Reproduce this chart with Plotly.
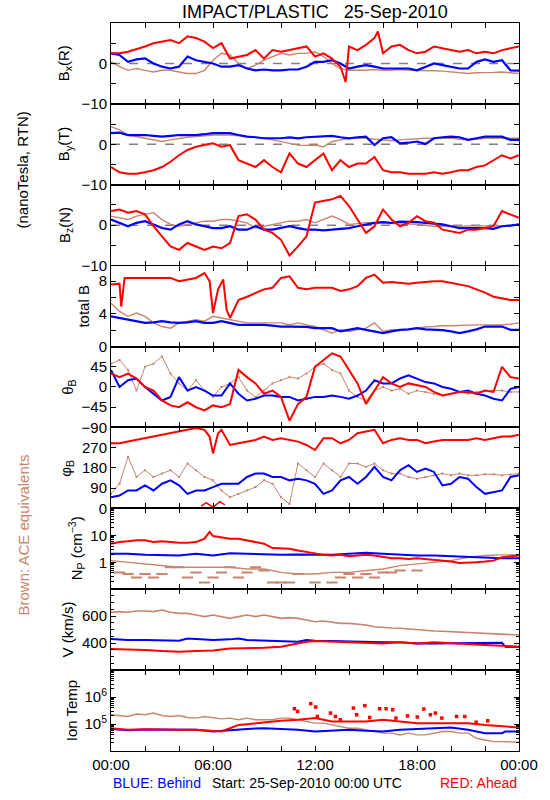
import plotly.graph_objects as go
from plotly.subplots import make_subplots

# ---------------- time grids (hours after 25-Sep-2010 00:00 UTC) ----------------
H2 = [0, 0.5, 1, 1.5, 2, 2.5, 3, 3.5, 4, 4.5, 5, 5.5, 6, 6.5, 7, 7.5, 8, 8.5, 9, 9.5,
      10, 10.5, 11, 11.5, 12, 12.5, 13, 13.5, 14, 14.5, 15, 15.5, 16, 16.5, 17, 17.5,
      18, 18.5, 19, 19.5, 20, 20.5, 21, 21.5, 22, 22.5, 23, 23.5, 24]
H1 = [0, 1, 2, 3, 4, 5, 6, 7, 8, 9, 10, 11, 12, 13, 14, 15, 16, 17, 18, 19, 20, 21, 22, 23, 24]

X_TICKS = [0, 6, 12, 18, 24]
X_LABELS = ["00:00", "06:00", "12:00", "18:00", "00:00"]

# ---------------- Bx (R) ----------------
bx_red_t = [0, 0.5, 1, 1.5, 2, 2.5, 3, 3.5, 4, 4.5, 5, 5.5, 6, 6.5, 7, 7.5, 8, 8.5, 9, 9.5,
            10, 10.5, 11, 11.5, 12, 12.5, 13, 13.5, 13.8, 14, 14.5, 15, 15.5, 15.7, 16, 16.5,
            17, 17.5, 18, 18.5, 19, 19.5, 20, 20.5, 21, 21.5, 22, 22.5, 23, 23.5, 24]
bx_red = [2.5, 2.5, 2.9, 3.5, 4.2, 5.0, 5.4, 5.8, 5.0, 6.7, 6.3, 5.4, 3.8, 5.0, 1.2, 1.7, 2.1, 3.3, 1.2, 3.3,
          2.9, 3.3, 3.8, 4.2, 1.7, 2.5, 1.2, -0.8, -4.6, 4.2, 3.3, 4.6, 6.3, 7.9, 2.5, 4.2,
          4.6, 3.3, 2.5, 2.9, 4.2, 3.8, 3.3, 2.9, 3.3, 2.5, 2.9, 2.5, 3.3, 3.8, 4.2]
bx_blue = [2.5, 2.1, 0.4, 1.0, 1.25, 0, -0.8, -1.25, -0.8, 1.7, 0.8, 0.4, 0, -0.8, -0.8, -0.4, -1.25, -1.7, -1.5, -1.7,
           -1.7, -1.5, -1.5, -0.8, 0.4, 0.4, 0.8, 0, -1.25, -0.8, -0.4, -0.8, -1.25, -1.25, -1.25, -1.25,
           -1.7, -0.8, 0, -0.4, -0.8, -1.25, -1.25, 0.4, 1.0, 0.4, 0.8, -1.7, -1.8]
bx_brown = [0.4, -0.8, -1.7, -1.25, -1.7, -2.1, -1.7, -1.7, -2.1, -2.5, -2.5, -1.7, 0.8, 2.5, 2.1, 0, -1.25, -0.4, 0.8, 1.7,
            2.5, 2.1, 2.5, 2.5, 2.9, 1.7, 0, -1.25, -1.7, -1.7, -1.7, -1.5, -1.7, -1.7, -1.5, -1.7,
            -1.7, -1.7, -1.8, -1.9, -2.1, -2.3, -2.5, -2.3, -2.3, -2.2, -2.1, -2.3, -2.5]

# ---------------- By (T) ----------------
by_red = [-5.6, -6.9, -7.25, -7.25, -6.9, -6.4, -5.6, -4.3, -2.7, -1.4, -0.6, -0.2, 0.25, -0.6, -0.2, -3.9, -4.75, -5.6, -3.9, -5.6,
          -6.9, -2.25, -4.75, -5.6, -3.9, -2.25, -6.4, -3.9, -5.6, -4.75, -4.75, -3.1, -6.4, -6.9, -6.9, -7.25,
          -7.25, -7.25, -6.9, -7.25, -6.9, -6.4, -6.4, -5.6, -5.2, -3.9, -2.7, -3.5, -2.7]
by_blue = [2.75, 2.9, 2.3, 2.3, 2.3, 2.1, 1.9, 2.1, 2.3, 2.3, 2.3, 2.5, 2.75, 2.75, 2.75, 2.3, 1.9, 1.75, 1.5, 1.5,
           1.5, 1.7, 1.5, 1.75, 1.9, 2.1, 2.1, 1.75, 1.5, 1.75, 1.9, -0.2, 1.5, 1.75, 0.25, 0.4,
           0.7, 0.1, 1.5, 1.75, 1.9, 1.75, 1.1, 1.5, 1.9, 1.9, 1.9, 1.1, 1.1]
by_brown = [4.4, 3.6, 2.3, 1.9, 1.5, 1.1, 0.7, 1.1, 1.5, 1.75, 1.9, 2.1, 2.3, 2.3, 2.3, 2.1, 1.9, 1.75, 1.5, 1.1,
            0.7, 0.25, -0.2, -0.25, -0.2, -0.6, 0.7, 1.1, 1.5, 1.5, 1.5, 1.25, 1.1, 0.9, 1.1, 1.25,
            1.5, 1.5, 1.5, 1.5, 1.5, 1.25, 1.1, 1.25, 1.5, 1.5, 1.5, 1.5, 1.5]

# ---------------- Bz (N) ----------------
bz_red = [3.5, 3.9, 3.1, 3.5, 2.7, -0.25, -2.75, -5.25, -6.1, -4.4, -5.25, -6.1, -5.25, -5.7, -4.4, 2.25, 2.7, 1.4, -1.1, -1.9,
          -3.6, -7.5, -5.25, -2.75, 5.6, 6.0, 6.4, 7.25, 4.75, 1.4, -1.9, -0.25, 3.9, 1.4, -0.25, 0.6,
          2.25, 1.0, 0.6, -1.1, -1.5, -1.9, -1.1, -1.1, -0.7, -0.25, 3.5, 2.7, 1.8]
bz_blue = [1.4, 0.6, -0.25, 0.6, 1.0, 0.2, -0.7, -1.1, 0.2, 1.0, 0.2, -0.25, -0.7, -0.7, -0.25, -1.1, -1.1, -0.25, -1.1, -1.1,
           -0.7, -0.25, -0.7, -1.1, -1.1, -1.25, -1.1, -0.9, -0.7, -0.25, 0.2, 0.6, 0.75, 0.6, 0.9, 0.9,
           0.75, 0.6, 0.4, 0.2, -0.25, -0.7, -0.7, -0.7, -0.7, -0.9, -0.25, -0.1, 0.2]
bz_brown = [2.25, 1.8, 1.4, 2.25, 2.7, 3.1, 1.4, 0.2, -0.25, 0.2, 0.6, 1.0, 1.0, 1.4, 1.4, 1.0, 0.6, -0.7, -0.25, 0.2,
            0.6, 1.0, 1.0, 1.4, 0.6, 1.4, 2.25, 1.4, 0.2, 0.4, 0.6, 0.6, 0.6, 0.4, 0.4, 0.3,
            0.2, -0.1, -0.25, -0.25, -0.25, -0.25, -0.25, -0.25, -0.25, -0.25, -0.25, -0.1, 0.2]

# ---------------- total B ----------------
bt_red_t = [0, 0.5, 0.6, 0.8, 1, 1.5, 2, 2.5, 3, 3.5, 4, 4.5, 5, 5.5, 5.8, 6, 6.3, 6.6, 6.8, 7,
            7.5, 8, 8.5, 9, 9.5, 10, 10.5, 11, 11.5, 12, 12.5, 13, 13.5, 14, 14.5, 15, 15.5, 16,
            16.5, 17, 17.5, 18, 18.5, 19, 19.5, 20, 20.5, 21, 21.5, 22, 22.5, 23, 23.5, 24]
bt_red = [7.6, 7.7, 4.9, 8.4, 8.4, 8.4, 8.4, 8.4, 8.4, 8.4, 8.0, 8.2, 8.4, 9.0, 8.0, 4.1, 7.0, 8.2, 4.5, 3.5,
          5.7, 6.1, 6.6, 7.0, 7.2, 8.4, 8.6, 7.2, 7.0, 7.2, 7.2, 7.2, 6.8, 7.0, 7.4, 8.4, 8.8, 7.8,
          7.9, 7.8, 7.7, 7.8, 7.9, 8.0, 8.0, 7.8, 7.6, 7.4, 7.0, 6.6, 6.1, 5.9, 5.7, 5.7]
bt_blue = [3.7, 3.5, 3.3, 3.1, 2.9, 2.95, 3.1, 2.95, 2.9, 2.95, 3.1, 2.9, 2.9, 3.1, 2.9, 2.65, 2.65, 2.65, 2.65, 2.55,
           2.45, 2.45, 2.45, 2.4, 2.25, 2.25, 2.25, 1.85, 2.05, 2.25, 2.05, 1.85, 1.65, 1.85, 2.05, 2.1,
           2.25, 2.1, 2.05, 2.0, 1.85, 1.65, 1.85, 2.1, 2.45, 2.45, 2.45, 2.05, 2.05]
bt_brown = [5.3, 4.3, 3.7, 4.1, 3.7, 2.9, 2.45, 2.25, 2.9, 3.1, 3.3, 3.1, 3.7, 3.5, 3.3, 3.1, 2.9, 2.9, 2.9, 2.9,
            2.9, 2.65, 2.9, 2.65, 2.45, 2.05, 1.65, 2.05, 1.85, 2.05, 2.25, 2.9, 1.85, 2.05, 2.05, 2.1,
            2.25, 2.4, 2.45, 2.55, 2.55, 2.6, 2.65, 2.65, 2.65, 2.65, 2.65, 2.75, 2.9]

# ---------------- theta_B ----------------
th_red = [30, 22, 30, 19, 0, -8, -30, -41, -45, -34, -45, -52, -41, -45, -38, 38, 22, 8, -15, -8,
          -22, -75, -38, -22, 45, 60, 75, 68, 38, 8, -38, -8, 22, 8, 0, 8,
          4, 0, -11, -19, -15, -11, -11, -15, -8, -11, 45, 22, 19]
th_blue = [38, 0, 15, 19, 0, -15, -30, -22, 22, -8, 0, -8, -19, -19, 8, -15, -30, -26, -19, -19,
           -22, -22, -30, -26, -22, -22, -19, -22, -26, -19, -8, 15, 8, 8, 19, 26,
           19, 11, 8, 0, -4, -11, -8, -15, -19, -26, -30, -4, 0]
th_brown = [52, 60, 38, -8, 45, 52, 68, 30, 8, -8, 15, -8, -22, 0, 8, 22, -8, -22, -8, 8,
            15, 22, 19, 30, 45, 52, 38, 30, -8, -22, -30, -8, 0, -8, -4, -15,
            -8, -11, -15, -19, -15, -11, -15, -11, -8, -8, -8, -11, -11]

# ---------------- phi_B ----------------
ph_red_t = [0, 0.5, 1, 1.5, 2, 2.5, 3, 3.5, 4, 4.5, 5, 5.5, 5.8, 6, 6.3, 6.5, 7, 7.5, 8, 8.5,
            9, 9.5, 10, 10.5, 11, 11.5, 12, 12.5, 13, 13.5, 14, 14.5, 15, 15.5, 16, 16.5, 17,
            17.5, 18, 18.5, 19, 19.5, 20, 20.5, 21, 21.5, 22, 22.5, 23, 23.5, 24]
ph_red = [289.5, 289.5, 297, 304.5, 312, 319.5, 327, 334.5, 342, 349.5, 357, 349.5, 319.5, 244.5, 334.5, 349.5,
          282, 289.5, 297, 304.5, 319.5, 304.5, 312, 304.5, 297, 282, 259.5, 312, 312, 289.5, 304.5, 334.5,
          342, 349.5, 289.5, 304.5, 312, 304.5, 304.5, 289.5, 297, 304.5, 304.5, 304.5, 304.5, 312, 304.5,
          312, 319.5, 319.5, 327]
ph_red_wrap_t = [5.3, 5.6, 6.0, 6.4, 6.7]
ph_red_wrap = [10, 25, 5, 30, 15]
ph_blue = [49.5, 57, 79.5, 79.5, 102, 79.5, 109.5, 124.5, 102, 64.5, 79.5, 79.5, 94.5, 109.5, 109.5, 109.5,
           139.5, 154.5, 154.5, 139.5, 139.5, 124.5, 132, 124.5, 109.5, 64.5, 79.5, 124.5, 139.5, 109.5,
           139.5, 184.5, 139.5, 124.5, 169.5, 192, 162, 177, 162, 102, 109.5, 139.5, 132, 94.5, 64.5,
           72, 79.5, 139.5, 147]
ph_brown = [64.5, 109.5, 229.5, 139.5, 169.5, 139.5, 154.5, 169.5, 139.5, 199.5, 169.5, 139.5, 124.5, 79.5,
            49.5, 64.5, 79.5, 94.5, 124.5, 109.5, 49.5, 19.5, 199.5, 169.5, 139.5, 199.5, 169.5, 139.5,
            199.5, 199.5, 184.5, 199.5, 169.5, 154.5, 154.5, 139.5, 132, 139.5, 147, 154.5, 147, 154.5,
            147, 147, 151.5, 151.5, 147, 150, 154.5]

# ---------------- proton density N_P ----------------
np_red_t = [0, 0.5, 1, 1.5, 2, 2.5, 3, 3.5, 4, 4.5, 5, 5.5, 5.8, 6, 6.5, 7, 7.5, 8, 8.5, 9,
            9.5, 10, 10.5, 11, 11.5, 12, 12.5, 13, 13.5, 14, 14.5, 15, 15.5, 16, 16.5, 17, 17.5,
            18, 18.5, 19, 19.5, 20, 20.5, 21, 21.5, 22, 22.5, 23, 23.5, 24]
np_red = [4.87, 5.6, 5.96, 6.5, 6.5, 5.6, 5.96, 5.6, 5.3, 5.3, 5.6, 7.5, 13.3, 9.4, 8.2, 7.5, 7.5, 6.5, 5.96, 4.87,
          3.35, 3.16, 3.16, 2.74, 2.37, 2.05, 1.88, 1.78, 1.88, 1.68, 1.78, 1.88, 1.78, 1.54, 1.41, 1.41, 1.33,
          1.41, 1.33, 1.26, 1.15, 1.06, 0.94, 0.94, 1.0, 1.06, 1.15, 1.54, 1.68, 1.78]
np_blue = [2.05, 2.05, 1.88, 1.88, 1.78, 2.05, 1.78, 2.17, 2.05, 1.88, 1.88, 1.94, 1.88, 1.88, 2.05, 2.24,
           2.05, 1.88, 1.78, 1.78, 1.68, 1.54, 1.41, 1.41, 1.41]
np_brown = [1.15, 1.0, 0.87, 0.75, 0.65, 0.65, 0.65, 0.65, 0.56, 0.56, 0.42, 0.365, 0.365, 0.42, 0.42, 0.49,
            0.56, 0.75, 0.87, 1.0, 1.15, 1.54, 1.78, 1.88, 1.88]
np_brown_low_t = [0.5, 1, 1.5, 2, 2.5, 3, 3.5, 4, 4.5, 5, 5.5, 6, 6.5, 7, 7.5, 8, 8.5, 9, 9.5, 10, 10.5,
                  11, 12, 13, 13.5, 14, 14.5, 15, 15.5, 16, 16.5, 17, 18]
np_brown_low = [0.42, 0.365, 0.274, 0.365, 0.274, 0.365, 0.65, 0.65, 0.274, 0.42, 0.178, 0.274, 0.42, 0.65,
                0.274, 0.42, 0.65, 0.49, 0.178, 0.178, 0.178, 0.365, 0.178, 0.178, 0.274, 0.365, 0.274,
                0.365, 0.274, 0.42, 0.42, 0.49, 0.49]

# ---------------- bulk speed V ----------------
v_red_t = [0, 1, 2, 3, 4, 5, 6, 7, 8, 9, 10, 11, 11.5, 12, 13, 14, 15, 16, 17, 18, 19, 20, 21, 22, 23, 24]
v_red = [356, 354, 349, 341, 336, 341, 346, 361, 361, 366, 373, 398, 411, 416, 411, 406, 398, 398, 406,
         398, 406, 398, 391, 386, 381, 373]
v_blue_t = [0, 1, 2, 3, 4, 4.5, 5, 6, 7, 7.5, 8, 9, 10, 11, 11.5, 12, 13, 14, 15, 16, 17, 18, 19, 20,
            21, 22, 23, 23.2, 24]
v_blue = [430, 423, 423, 423, 418, 435, 430, 423, 428, 435, 423, 418, 411, 411, 423, 418, 416, 411, 406,
          406, 406, 398, 398, 398, 398, 398, 403, 373, 371]
v_brown = [629, 634, 629, 639, 639, 634, 646, 629, 621, 621, 609, 597, 609, 597, 584, 597, 609, 597, 609, 597,
           584, 589, 584, 572, 559, 564, 554, 547, 547, 540, 535, 522, 515, 512, 510, 505, 497, 495,
           490, 488, 485, 483, 480, 478, 473, 470, 465, 463, 460]

# ---------------- ion temperature ----------------
t_red_t = [0, 1, 2, 3, 4, 5, 6, 6.5, 7, 7.5, 8, 8.5, 9, 9.5, 10, 11, 12, 13, 14, 15, 16, 17, 18, 19,
           20, 21, 22, 23, 24]
t_red = [7.0e4, 6.1e4, 6.4e4, 6.1e4, 6.1e4, 6.1e4, 5.6e4, 5.3e4, 7.0e4, 9.3e4, 9.9e4, 1.08e5, 1.17e5,
         1.24e5, 1.32e5, 1.44e5, 1.66e5, 1.24e5, 1.24e5, 1.24e5, 1.44e5, 1.24e5, 1.08e5, 1.08e5, 1.08e5,
         1.08e5, 9.3e4, 8.1e4, 7.4e4]
t_red_pts_t = [10.79, 10.98, 11.75, 12.04, 12.14, 12.91, 13.2, 13.49, 14.26, 14.93, 14.45, 15.22, 15.8,
               16.18, 16.57, 16.76, 17.44, 18.02, 18.4, 18.79, 19.08, 19.46, 20.33, 20.81, 21.48, 22.16]
t_red_pts = [3.7e5, 2.94e5, 5.7e5, 4.27e5, 1.91e5, 2.55e5, 1.91e5, 1.44e5, 3.9e5, 4.8e5, 2.21e5, 1.75e5,
             3.7e5, 3.7e5, 3.4e5, 1.66e5, 2.0e5, 1.82e5, 3.6e5, 2.21e5, 2.55e5, 1.66e5, 1.91e5, 1.91e5,
             1.17e5, 1.32e5]
t_blue_t = [0, 1, 2, 3, 4, 5, 6, 7, 8, 9, 10, 11, 12, 13, 14, 15, 16, 17, 18, 19, 20, 21, 22, 23, 23.2, 24]
t_blue = [6.6e4, 5.9e4, 6.25e4, 6.25e4, 6.4e4, 6.1e4, 5.3e4, 6.1e4, 6.6e4, 7.0e4, 6.6e4, 6.1e4, 5.3e4,
          5.6e4, 6.1e4, 5.6e4, 5.3e4, 6.1e4, 6.6e4, 7.0e4, 7.4e4, 6.1e4, 4.6e4, 4.6e4, 5.3e4, 5.3e4]
t_brown = [2.21e5, 2.08e5, 1.91e5, 2.34e5, 2.21e5, 2.55e5, 2.08e5, 1.91e5, 2.08e5, 1.75e5, 1.66e5, 1.91e5,
           1.75e5, 1.56e5, 1.66e5, 1.44e5, 1.66e5, 1.44e5, 1.44e5, 1.44e5, 1.66e5, 1.66e5, 1.44e5, 1.24e5,
           1.08e5, 1.08e5, 9.3e4, 8.1e4, 7.0e4, 7.0e4, 6.1e4, 5.3e4, 4.6e4, 4.6e4, 3.95e4, 4.6e4, 3.95e4,
           3.95e4, 4.6e4, 5.3e4, 5.3e4, 4.6e4, 4.6e4, 2.97e4, 2.57e4, 2.22e4, 2.22e4, 2.22e4, 2.1e4]

# ---------------- styling ----------------
RED = "#FF0000"
BLUE = "#0000FF"
BROWN = "#C8846C"
FONT = "Liberation Sans, Arial, sans-serif"
MINUS = "\u2212"

fig = make_subplots(rows=9, cols=1, shared_xaxes=True, vertical_spacing=0)


def add(row, x, y, color, width=2.0, mode="lines", size=3, symbol="square"):
    fig.add_trace(go.Scatter(x=x, y=y, mode=mode,
                             line=dict(color=color, width=width),
                             marker=dict(color=color, size=size, symbol=symbol,
                                         line=dict(width=2 if symbol == "line-ew" else 0, color=color)),
                             showlegend=False, hoverinfo="skip"), row=row, col=1)


# row 1: Bx
add(1, H2, bx_brown, BROWN, 1.4)
add(1, H2, bx_blue, BLUE, 2.2)
add(1, bx_red_t, bx_red, RED, 2.0)
# row 2: By
add(2, H2, by_brown, BROWN, 1.4)
add(2, H2, by_blue, BLUE, 2.2)
add(2, H2, by_red, RED, 2.0)
# row 3: Bz
add(3, H2, bz_brown, BROWN, 1.4)
add(3, H2, bz_blue, BLUE, 2.2)
add(3, H2, bz_red, RED, 2.0)
# row 4: total B
add(4, H2, bt_brown, BROWN, 1.4)
add(4, H2, bt_blue, BLUE, 2.2)
add(4, bt_red_t, bt_red, RED, 2.0)
# row 5: theta
add(5, H2, th_brown, BROWN, 1.0, mode="lines+markers", size=2)
add(5, H2, th_blue, BLUE, 2.0)
add(5, H2, th_red, RED, 2.0)
# row 6: phi
add(6, H2, ph_brown, BROWN, 1.0, mode="lines+markers", size=2)
add(6, H2, ph_blue, BLUE, 2.0)
add(6, ph_red_t, ph_red, RED, 2.0)
add(6, ph_red_wrap_t, ph_red_wrap, RED, 1.5)
# row 7: Np
add(7, H1, np_brown, BROWN, 1.4)
add(7, np_brown_low_t, np_brown_low, BROWN, 1, mode="markers", size=8, symbol="line-ew")
add(7, H1, np_blue, BLUE, 2.0)
add(7, np_red_t, np_red, RED, 2.0)
# row 8: V
add(8, H2, v_brown, BROWN, 1.6)
add(8, v_blue_t, v_blue, BLUE, 2.0)
add(8, v_red_t, v_red, RED, 2.0)
# row 9: Ion Temp
add(9, H2, t_brown, BROWN, 1.4)
add(9, t_blue_t, t_blue, BLUE, 2.0)
add(9, t_red_t, t_red, RED, 2.0)
add(9, t_red_pts_t, t_red_pts, RED, 1, mode="markers", size=3.5)

axis_common = dict(showline=True, linecolor="black", linewidth=1, mirror="allticks",
                   ticks="inside", ticklen=5, tickwidth=1, tickcolor="black",
                   showgrid=False, zeroline=False, tickfont=dict(family=FONT, size=15, color="black"))


def minor(vals, length=5):
    return dict(tickmode="array", tickvals=vals, ticks="inside", ticklen=length, tickcolor="black",
                tickwidth=1, showgrid=False)


for r in range(1, 10):
    fig.update_xaxes(range=[0, 24], tickmode="array", tickvals=X_TICKS, ticktext=X_LABELS,
                     showticklabels=(r == 9), minor=minor([2, 4, 8, 10, 14, 16, 20, 22]),
                     **axis_common, row=r, col=1)

for r in (1, 2, 3):
    fig.update_yaxes(range=[-10, 10], tickmode="array", tickvals=[-10, 0],
                     ticktext=[MINUS + "10", "0"], minor=minor([-5, 5]), **axis_common, row=r, col=1)
fig.update_yaxes(range=[0, 9.9], tickmode="array", tickvals=[0, 4, 8],
                 ticktext=["0", "4", "8"], minor=minor([2, 6]), **axis_common, row=4, col=1)
fig.update_yaxes(range=[-90, 90], tickmode="array", tickvals=[-90, -45, 0, 45],
                 ticktext=[MINUS + "90", MINUS + "45", "0", "45"], **axis_common, row=5, col=1)
fig.update_yaxes(range=[0, 360], tickmode="array", tickvals=[0, 90, 180, 270],
                 ticktext=["0", "90", "180", "270"], **axis_common, row=6, col=1)
np_minor = [0.2, 0.3, 0.4, 0.5, 0.6, 0.7, 0.8, 0.9, 2, 3, 4, 5, 6, 7, 8, 9, 20, 30, 40, 50, 60, 70, 80, 90]
fig.update_yaxes(type="log", range=[-1, 2], tickmode="array", tickvals=[1, 10],
                 ticktext=["1", "10"], minor=minor(np_minor, 3), **axis_common, row=7, col=1)
v_minor = [250, 300, 350, 450, 500, 550, 650, 700, 750]
fig.update_yaxes(range=[200, 800], tickmode="array", tickvals=[400, 600],
                 ticktext=["400", "600"], minor=minor(v_minor, 3), **axis_common, row=8, col=1)
t_minor = [2e4, 3e4, 4e4, 5e4, 6e4, 7e4, 8e4, 9e4, 2e5, 3e5, 4e5, 5e5, 6e5, 7e5, 8e5, 9e5,
           2e6, 3e6, 4e6, 5e6, 6e6, 7e6, 8e6, 9e6]
fig.update_yaxes(type="log", range=[4, 7], tickmode="array", tickvals=[1e5, 1e6],
                 ticktext=["10<sup>5</sup>", "10<sup>6</sup>"], minor=minor(t_minor, 3),
                 **axis_common, row=9, col=1)

# dashed zero lines for the field components
for r in (1, 2, 3):
    yref = "y" if r == 1 else f"y{r}"
    xref = "x" if r == 1 else f"x{r}"
    fig.add_shape(type="line", xref=xref, yref=yref, x0=0, x1=24, y0=0, y1=0,
                  line=dict(color="#808080", width=1.5, dash="dash"), layer="below")

# ---------------- text ----------------
L, W = 111, 415
TOP, H = 23, 728


def px_x(p):
    return (p - L) / W


def px_y(p):
    return 1 - (p - TOP) / H


y_titles = [
    ("B<sub>x</sub>(R)", 64), ("B<sub>y</sub>(T)", 64), ("B<sub>z</sub>(N)", 64),
    ("total B", 83), ("\u03b8<sub>B</sub>", 67), ("\u03c6<sub>B</sub>", 66),
    ("N<sub>P</sub> (cm<sup>" + MINUS + "3</sup>)", 76), ("V (km/s)", 67), ("Ion Temp", 71),
]
annotations = []
for i, (txt, xp) in enumerate(y_titles):
    r = i + 1
    yd = "y domain" if r == 1 else f"y{r} domain"
    annotations.append(dict(text=txt, xref="paper", x=px_x(xp), yref=yd, y=0.5,
                            textangle=-90, showarrow=False, xanchor="center", yanchor="middle",
                            font=dict(family=FONT, size=15, color="black")))

annotations += [
    dict(text="IMPACT/PLASTIC\u00a0\u00a0\u00a025-Sep-2010",
         xref="paper", yref="paper", x=px_x(318), y=px_y(12), showarrow=False,
         xanchor="center", yanchor="middle", font=dict(family=FONT, size=18, color="black")),
    dict(text="(nanoTesla, RTN)", xref="paper", yref="paper", x=px_x(21), y=px_y(170),
         textangle=-90, showarrow=False, xanchor="center", yanchor="middle",
         font=dict(family=FONT, size=15, color="black")),
    dict(text="Brown: ACE equivalents", xref="paper", yref="paper", x=px_x(21), y=px_y(535),
         textangle=-90, showarrow=False, xanchor="center", yanchor="middle",
         font=dict(family=FONT, size=15, color=BROWN)),
    dict(text="BLUE: Behind", xref="paper", yref="paper", x=px_x(111), y=px_y(783),
         showarrow=False, xanchor="left", yanchor="middle",
         font=dict(family=FONT, size=14, color=BLUE)),
    dict(text="Start: 25-Sep-2010 00:00 UTC", xref="paper", yref="paper", x=px_x(212), y=px_y(783),
         showarrow=False, xanchor="left", yanchor="middle",
         font=dict(family=FONT, size=14, color="black")),
    dict(text="RED: Ahead", xref="paper", yref="paper", x=px_x(526), y=px_y(783),
         showarrow=False, xanchor="right", yanchor="middle",
         font=dict(family=FONT, size=14, color=RED)),
]

fig.update_layout(width=550, height=800, margin=dict(l=111, r=24, t=23, b=49, pad=0),
                  plot_bgcolor="white", paper_bgcolor="white", showlegend=False,
                  font=dict(family=FONT, size=15, color="black"),
                  annotations=annotations)

fig.write_html("out.html", config={"displayModeBar": False},
               post_script="document.body.style.margin='0';document.body.style.padding='0';")
